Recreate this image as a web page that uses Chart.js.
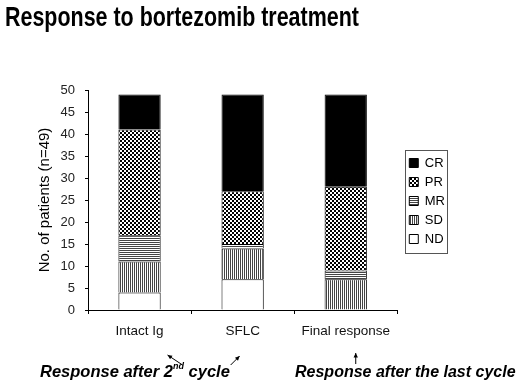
<!DOCTYPE html>
<html>
<head>
<meta charset="utf-8">
<script src="https://cdn.jsdelivr.net/npm/chart.js@4"></script>
<style>
  body { margin: 0; background: #fff; }
  #wrap { position: relative; width: 520px; height: 384px; }
  h1 { position: absolute; left: 5px; top: 0px; margin: 0; font: bold 28px "Liberation Sans", Arial, sans-serif; line-height: 34px; color: #000; white-space: nowrap; transform: scaleX(0.766); transform-origin: 0 0; }
  .note { position: absolute; top: 362px; font: italic bold 16.5px "Liberation Sans", Arial, sans-serif; line-height: 19px; color: #000; white-space: nowrap; }
  .note sup { font-size: 9px; vertical-align: baseline; position: relative; top: -0.85em; line-height: 0; }
</style>
</head>
<body>
<div id="wrap">
  <canvas id="bar-chart" width="520" height="384"></canvas>
  <h1>Response to bortezomib treatment</h1>
  <div class="note" style="left:40px">Response after 2<sup>nd</sup> cycle</div>
  <div class="note" style="left:295px; font-size:16px">Response after the last cycle</div>
</div>
<script>
// data (patients, stacked bottom to top)
const categories = ['Intact Ig', 'SFLC', 'Final response'];
const ndValues = [4, 7, 0];
const sdValues = [7, 7, 7];
const mrValues = [6, 1, 2];
const prValues = [24, 12, 19];
const crValues = [8, 22, 21];
const yMax = 50;
const yStep = 5;

// little fill patterns like the old excel hatching
function makePattern(kind) {
  const c = document.createElement('canvas');
  c.width = 4; c.height = 4;
  const g = c.getContext('2d');
  g.fillStyle = '#fff';
  g.fillRect(0, 0, 4, 4);
  g.fillStyle = '#000';
  if (kind == 'check') {
    g.fillRect(0, 0, 2, 2);
    g.fillRect(2, 2, 2, 2);
  } else if (kind == 'hor') {
    g.fillStyle = '#444';
    g.fillRect(0, 0, 4, 1);
    g.fillRect(0, 2, 4, 1);
  } else if (kind == 'ver') {
    g.fillStyle = '#444';
    g.fillRect(0, 0, 1, 4);
    g.fillRect(2, 0, 1, 4);
  }
  return g.createPattern(c, 'repeat');
}

// move the legend so it sits in the middle of the plot height, then box it
const legendBox = {
  id: 'legendBox',
  afterUpdate(chart) {
    const lg = chart.legend;
    const boxes = lg.legendHitBoxes;
    if (!boxes || !boxes.length) return;
    const last = boxes[boxes.length - 1];
    const mid = (boxes[0].top + last.top + last.height) / 2;
    const want = (chart.chartArea.top + chart.chartArea.bottom) / 2 + 1;
    const dy = want - mid;
    const dx = 6;
    lg.top += dy; lg.bottom += dy;
    lg.left += dx; lg.right += dx;
    boxes.forEach(b => { b.top += dy; b.left += dx; });
  },
  afterDraw(chart) {
    const boxes = chart.legend.legendHitBoxes;
    if (!boxes || !boxes.length) return;
    let x1 = 1e9, y1 = 1e9, x2 = 0, y2 = 0;
    boxes.forEach(b => {
      x1 = Math.min(x1, b.left); y1 = Math.min(y1, b.top);
      x2 = Math.max(x2, b.left + b.width); y2 = Math.max(y2, b.top + b.height);
    });
    const ctx = chart.ctx;
    ctx.save();
    ctx.strokeStyle = '#555';
    ctx.lineWidth = 1;
    ctx.strokeRect(Math.round(x1 - 4) + 0.5, Math.round(y1 - 7) + 0.5, Math.round(x2 - x1 + 6), Math.round(y2 - y1 + 14));
    ctx.restore();
  }
};

// small arrows pointing from the notes up to the category labels
function arrow(ctx, x1, y1, x2, y2) {
  const a = Math.atan2(y2 - y1, x2 - x1);
  ctx.beginPath();
  ctx.moveTo(x1, y1);
  ctx.lineTo(x2, y2);
  ctx.stroke();
  ctx.beginPath();
  ctx.moveTo(x2, y2);
  ctx.lineTo(x2 - 5 * Math.cos(a - 0.45), y2 - 5 * Math.sin(a - 0.45));
  ctx.lineTo(x2 - 5 * Math.cos(a + 0.45), y2 - 5 * Math.sin(a + 0.45));
  ctx.closePath();
  ctx.fill();
}
const arrows = {
  id: 'arrows',
  afterDraw(chart) {
    const x = chart.scales.x;
    const ctx = chart.ctx;
    const top = chart.chartArea.bottom;
    ctx.save();
    ctx.strokeStyle = '#000';
    ctx.fillStyle = '#000';
    ctx.lineWidth = 1;
    arrow(ctx, x.getPixelForValue(0) + 43, top + 55, x.getPixelForValue(0) + 28, top + 45);
    arrow(ctx, x.getPixelForValue(1) - 12, top + 55, x.getPixelForValue(1) - 3, top + 46);
    arrow(ctx, x.getPixelForValue(2) + 10, top + 54, x.getPixelForValue(2) + 10, top + 43);
    ctx.restore();
  }
};

Chart.defaults.font.family = '"Liberation Sans", Arial, sans-serif';
Chart.defaults.color = '#000';

new Chart(document.getElementById('bar-chart'), {
  type: 'bar',
  data: {
    labels: categories,
    datasets: [
      { label: 'ND', data: ndValues, backgroundColor: '#fff' },
      { label: 'SD', data: sdValues, backgroundColor: makePattern('ver') },
      { label: 'MR', data: mrValues, backgroundColor: makePattern('hor') },
      { label: 'PR', data: prValues, backgroundColor: makePattern('check') },
      { label: 'CR', data: crValues, backgroundColor: '#000' }
    ].map(d => Object.assign(d, { borderColor: '#000', borderWidth: 1, barPercentage: 0.41, categoryPercentage: 1 }))
  },
  options: {
    responsive: false,
    animation: false,
    layout: { padding: { left: 0, right: 71, top: 90, bottom: 0 } },
    plugins: {
      legend: {
        position: 'right',
        reverse: true,
        labels: { boxWidth: 9, boxHeight: 9, font: { size: 13 }, padding: 6 }
      },
      tooltip: { enabled: false }
    },
    scales: {
      x: {
        stacked: true,
        afterFit(s) { s.height = 74; },
        grid: { drawOnChartArea: false, tickLength: 4, color: '#000' },
        border: { color: '#000' },
        ticks: { font: { size: 13.5 }, padding: 9, color: '#111' }
      },
      y: {
        stacked: true,
        min: 0,
        max: yMax,
        afterFit(s) { s.width = 88; },
        grid: { drawOnChartArea: false, tickLength: 3, color: '#000' },
        border: { color: '#000' },
        ticks: { stepSize: yStep, padding: 10, font: { size: 13 }, color: '#222' },
        title: { display: true, text: 'No. of patients (n=49)', font: { size: 15 }, padding: { top: 36, bottom: 0 } }
      }
    }
  },
  plugins: [legendBox, arrows]
});
</script>
</body>
</html>
